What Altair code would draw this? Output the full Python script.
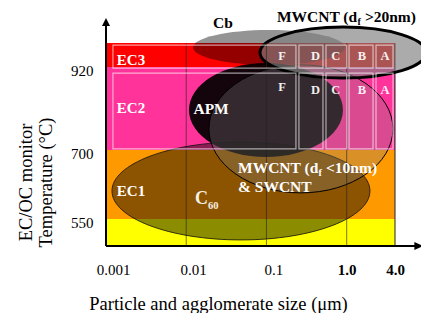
import altair as alt
import pandas as pd

# ---------------- values ----------------
x_ticks = [0.001, 0.01, 0.1, 1.0, 4.0]          # particle size, µm
y_ticks = [550, 700, 920]                        # EC/OC monitor temperature, °C

band_names = ["EC3", "EC2", "EC1", "OC"]
band_lo = [920, 700, 550, 450]
band_hi = [1000, 920, 700, 550]

class_names = ["F", "D", "C", "B", "A"]
class_lo = [0.00122, 0.254, 0.552, 1.07, 2.32]
class_hi = [0.233, 0.506, 1.0, 2.13, 3.78]
row_lo = [917, 703]
row_hi = [993, 904]
class_label_x = [0.156, 0.41, 0.73, 1.55, 3.0]
class_label_y_row1 = [957, 957, 957, 957, 957]
class_label_y_row2 = [867, 859, 859, 859, 859]

ec_labels = ["EC3", "EC2", "EC1"]
ec_label_x = [0.00205, 0.00205, 0.00205]
ec_label_y = [943, 811, 611]

decade_lines = [0.01, 0.1, 1.0]

ellipse_names = ["C60", "APM", "Cb", "MWCNT_small", "MWCNT_large"]
ellipse_x = [0.0481, 0.0986, 0.1075, 0.269, 0.899]
ellipse_y = [611, 806, 985, 756, 968]

# ---------------- styles ----------------
band_colors = ["#FF0000", "#FF3399", "#FF9900", "#FFFF00"]
FONT = "Liberation Serif"
ellipse_style = {
    "C60": dict(rx=129, ry=49, fill="black", fillOpacity=0.45, stroke="#111111", strokeWidth=1, strokeOpacity=0.8),
    "APM": dict(rx=77, ry=47, fill="black", fillOpacity=0.92),
    "Cb": dict(rx=76, ry=17.5, fill="black", fillOpacity=0.42),
    "MWCNT_small": dict(rx=92, ry=64, fill="#808080", fillOpacity=0.3, stroke="black", strokeWidth=1),
    "MWCNT_large": dict(rx=83, ry=25.5, fill="#808080", fillOpacity=0.66, stroke="black", strokeWidth=3),
}


def ellipse_path(ratio):
    k = 0.5523
    r = ratio
    return (f"M 1 0 C 1 {k*r:.4f} {k:.4f} {r:.4f} 0 {r:.4f} "
            f"C {-k:.4f} {r:.4f} -1 {k*r:.4f} -1 0 "
            f"C -1 {-k*r:.4f} {-k:.4f} {-r:.4f} 0 {-r:.4f} "
            f"C {k:.4f} {-r:.4f} 1 {-k*r:.4f} 1 0 Z")


XS = alt.Scale(type="log", domain=[0.001, 4.0], nice=False)
YS = alt.Scale(domain=[450, 550, 700, 920, 1000], range=[203, 176, 107, 24, 0])

x_axis = alt.Axis(
    values=x_ticks,
    labelExpr="datum.value >= 1 ? format(datum.value, '.1f') : format(datum.value, '~g')",
    labelFont=FONT, labelFontSize=15, labelColor="black",
    labelFontWeight={"condition": {"test": "datum.value >= 1", "value": "bold"}, "value": "normal"},
    labelOffset={"condition": {"test": "datum.value < 0.5", "value": 7}, "value": 0},
    labelPadding=16, labelFlush=False, labelOverlap=False,
    domain=False, ticks=False, grid=False,
    title="Particle and agglomerate size (μm)",
    titleFont=FONT, titleFontSize=18.5, titleFontWeight="normal", titleColor="black",
    titleX=112, titleY=63, titleBaseline="alphabetic", titleAlign="center",
)
y_axis = alt.Axis(
    values=y_ticks,
    labelFont=FONT, labelFontSize=15, labelColor="black",
    labelPadding=13, labelOffset=3, labelFlush=False, labelOverlap=False,
    domain=False, ticks=False, grid=False,
    title=["EC/OC monitor", "Temperature  (°C)"],
    titleFont=FONT, titleFontSize=18.5, titleFontWeight="normal", titleColor="black",
    titleAngle=270, titleX=-75, titleY=139, titleBaseline="alphabetic",
    titleAlign="center", titleLineHeight=20,
)


def X(f):
    return alt.X(f, type="quantitative", scale=XS, axis=x_axis)


def Y(f):
    return alt.Y(f, type="quantitative", scale=YS, axis=y_axis)


layers = []

# colour bands
bands = pd.DataFrame({"band": band_names, "lo": band_lo, "hi": band_hi,
                      "x0": [x_ticks[0]] * 4, "x1": [x_ticks[-1]] * 4})
layers.append(
    alt.Chart(bands).mark_rect().encode(
        x=X("x0"), x2="x1", y=Y("lo"), y2="hi",
        color=alt.Color("band:N", scale=alt.Scale(domain=band_names, range=band_colors), legend=None),
    )
)

# right border of the box
layers.append(
    alt.Chart(pd.DataFrame({"x": [x_ticks[-1]], "lo": [band_lo[-1]], "hi": [band_hi[0]]}))
    .mark_rule(color="#222222", strokeWidth=1)
    .encode(x=X("x"), y=Y("lo"), y2="hi")
)

# ellipses
ell = pd.DataFrame({"name": ellipse_names, "x": ellipse_x, "y": ellipse_y})
for name in ellipse_names:
    st = dict(ellipse_style[name])
    rx = st.pop("rx")
    ry = st.pop("ry")
    layers.append(
        alt.Chart(ell[ell["name"] == name]).mark_point(
            shape=ellipse_path(ry / rx), size=(2 * rx) ** 2, filled=True, opacity=1, **st
        ).encode(x=X("x"), y=Y("y"))
    )

# decade lines
layers.append(
    alt.Chart(pd.DataFrame({"x": decade_lines, "lo": [band_lo[-1]] * 3, "hi": [band_hi[0]] * 3}))
    .mark_rule(color="#222222", strokeWidth=1, opacity=0.6)
    .encode(x=X("x"), y=Y("lo"), y2="hi")
)

# white class boxes
rows = []
for r in range(2):
    for i, c in enumerate(class_names):
        rows.append({"cls": c, "x0": class_lo[i], "x1": class_hi[i], "lo": row_lo[r], "hi": row_hi[r]})
layers.append(
    alt.Chart(pd.DataFrame(rows)).mark_rect(fillOpacity=0, stroke="white", strokeWidth=1.2, strokeOpacity=0.6)
    .encode(x=X("x0"), x2="x1", y=Y("lo"), y2="hi")
)

# class letters
cl = pd.DataFrame({"t": class_names * 2, "x": class_label_x * 2,
                   "y": class_label_y_row1 + class_label_y_row2})
layers.append(
    alt.Chart(cl).mark_text(font=FONT, fontWeight="bold", fontSize=12.5, color="white", opacity=0.92, baseline="middle")
    .encode(x=X("x"), y=Y("y"), text="t:N")
)

# EC band labels
layers.append(
    alt.Chart(pd.DataFrame({"t": ec_labels, "x": ec_label_x, "y": ec_label_y}))
    .mark_text(font=FONT, fontWeight="bold", fontSize=15, color="white", baseline="middle")
    .encode(x=X("x"), y=Y("y"), text="t:N")
)

# axes drawn as arrows
layers.append(
    alt.Chart(pd.DataFrame({"x": [0.001], "lo": [450], "hi": [1068]}))
    .mark_rule(color="black", strokeWidth=2).encode(x=X("x"), y=Y("lo"), y2="hi")
)
layers.append(
    alt.Chart(pd.DataFrame({"x0": [0.001], "x1": [8.2], "y": [450]}))
    .mark_rule(color="black", strokeWidth=2).encode(x=X("x0"), x2="x1", y=Y("y"))
)
layers.append(
    alt.Chart(pd.DataFrame({"x": [0.001], "y": [1070]}))
    .mark_point(shape="M 0 -1 L 1 1 L -1 1 Z", size=64, filled=True, fill="black", opacity=1)
    .encode(x=X("x"), y=Y("y"))
)
layers.append(
    alt.Chart(pd.DataFrame({"x": [8.0], "y": [450]}))
    .mark_point(shape="M 1 0 L -1.2 -1 L -1.2 1 Z", size=64, filled=True, fill="black", opacity=1)
    .encode(x=X("x"), y=Y("y"))
)

# annotations
def label(text, x, y, color, size, align="center", dx=0, dy=0):
    return (alt.Chart(pd.DataFrame({"t": [text], "x": [x], "y": [y]}))
            .mark_text(font=FONT, fontWeight="bold", fontSize=size, color=color,
                       align=align, baseline="middle", dx=dx, dy=dy)
            .encode(x=X("x"), y=Y("y"), text="t:N"))


layers.append(label("Cb", 0.0287, 1066, "black", 15.5))
layers.append(label("MWCNT (d", 0.135, 1086, "black", 15.5, "left"))
layers.append(label("f", 0.135, 1086, "black", 10, "left", dx=80.5, dy=5))
layers.append(label(">20nm)", 0.135, 1086, "black", 15.5, "left", dx=88))
layers.append(label("APM", 0.0204, 809, "white", 15.5))
layers.append(label("MWCNT (d", 0.0442, 661, "white", 15.5, "left"))
layers.append(label("f", 0.0442, 661, "white", 10, "left", dx=80.5, dy=5))
layers.append(label("<10nm)", 0.0442, 661, "white", 15.5, "left", dx=88))
layers.append(label("& SWCNT", 0.0442, 620, "white", 15.5, "left"))
layers.append(label("C", 0.01286, 593, "#f5f0e6", 18, "left"))
layers.append(label("60", 0.01286, 593, "#f5f0e6", 10.5, "left", dx=13, dy=7))

chart = (
    alt.layer(*layers)
    .properties(width=289, height=203, autosize=alt.AutoSizeParams(type="none"),
                padding={"left": 98, "top": 35, "right": 26, "bottom": 67},
                background="white")
    .configure_view(stroke=None)
)

chart.save("out.html", embed_options={"renderer": "svg", "actions": False})
